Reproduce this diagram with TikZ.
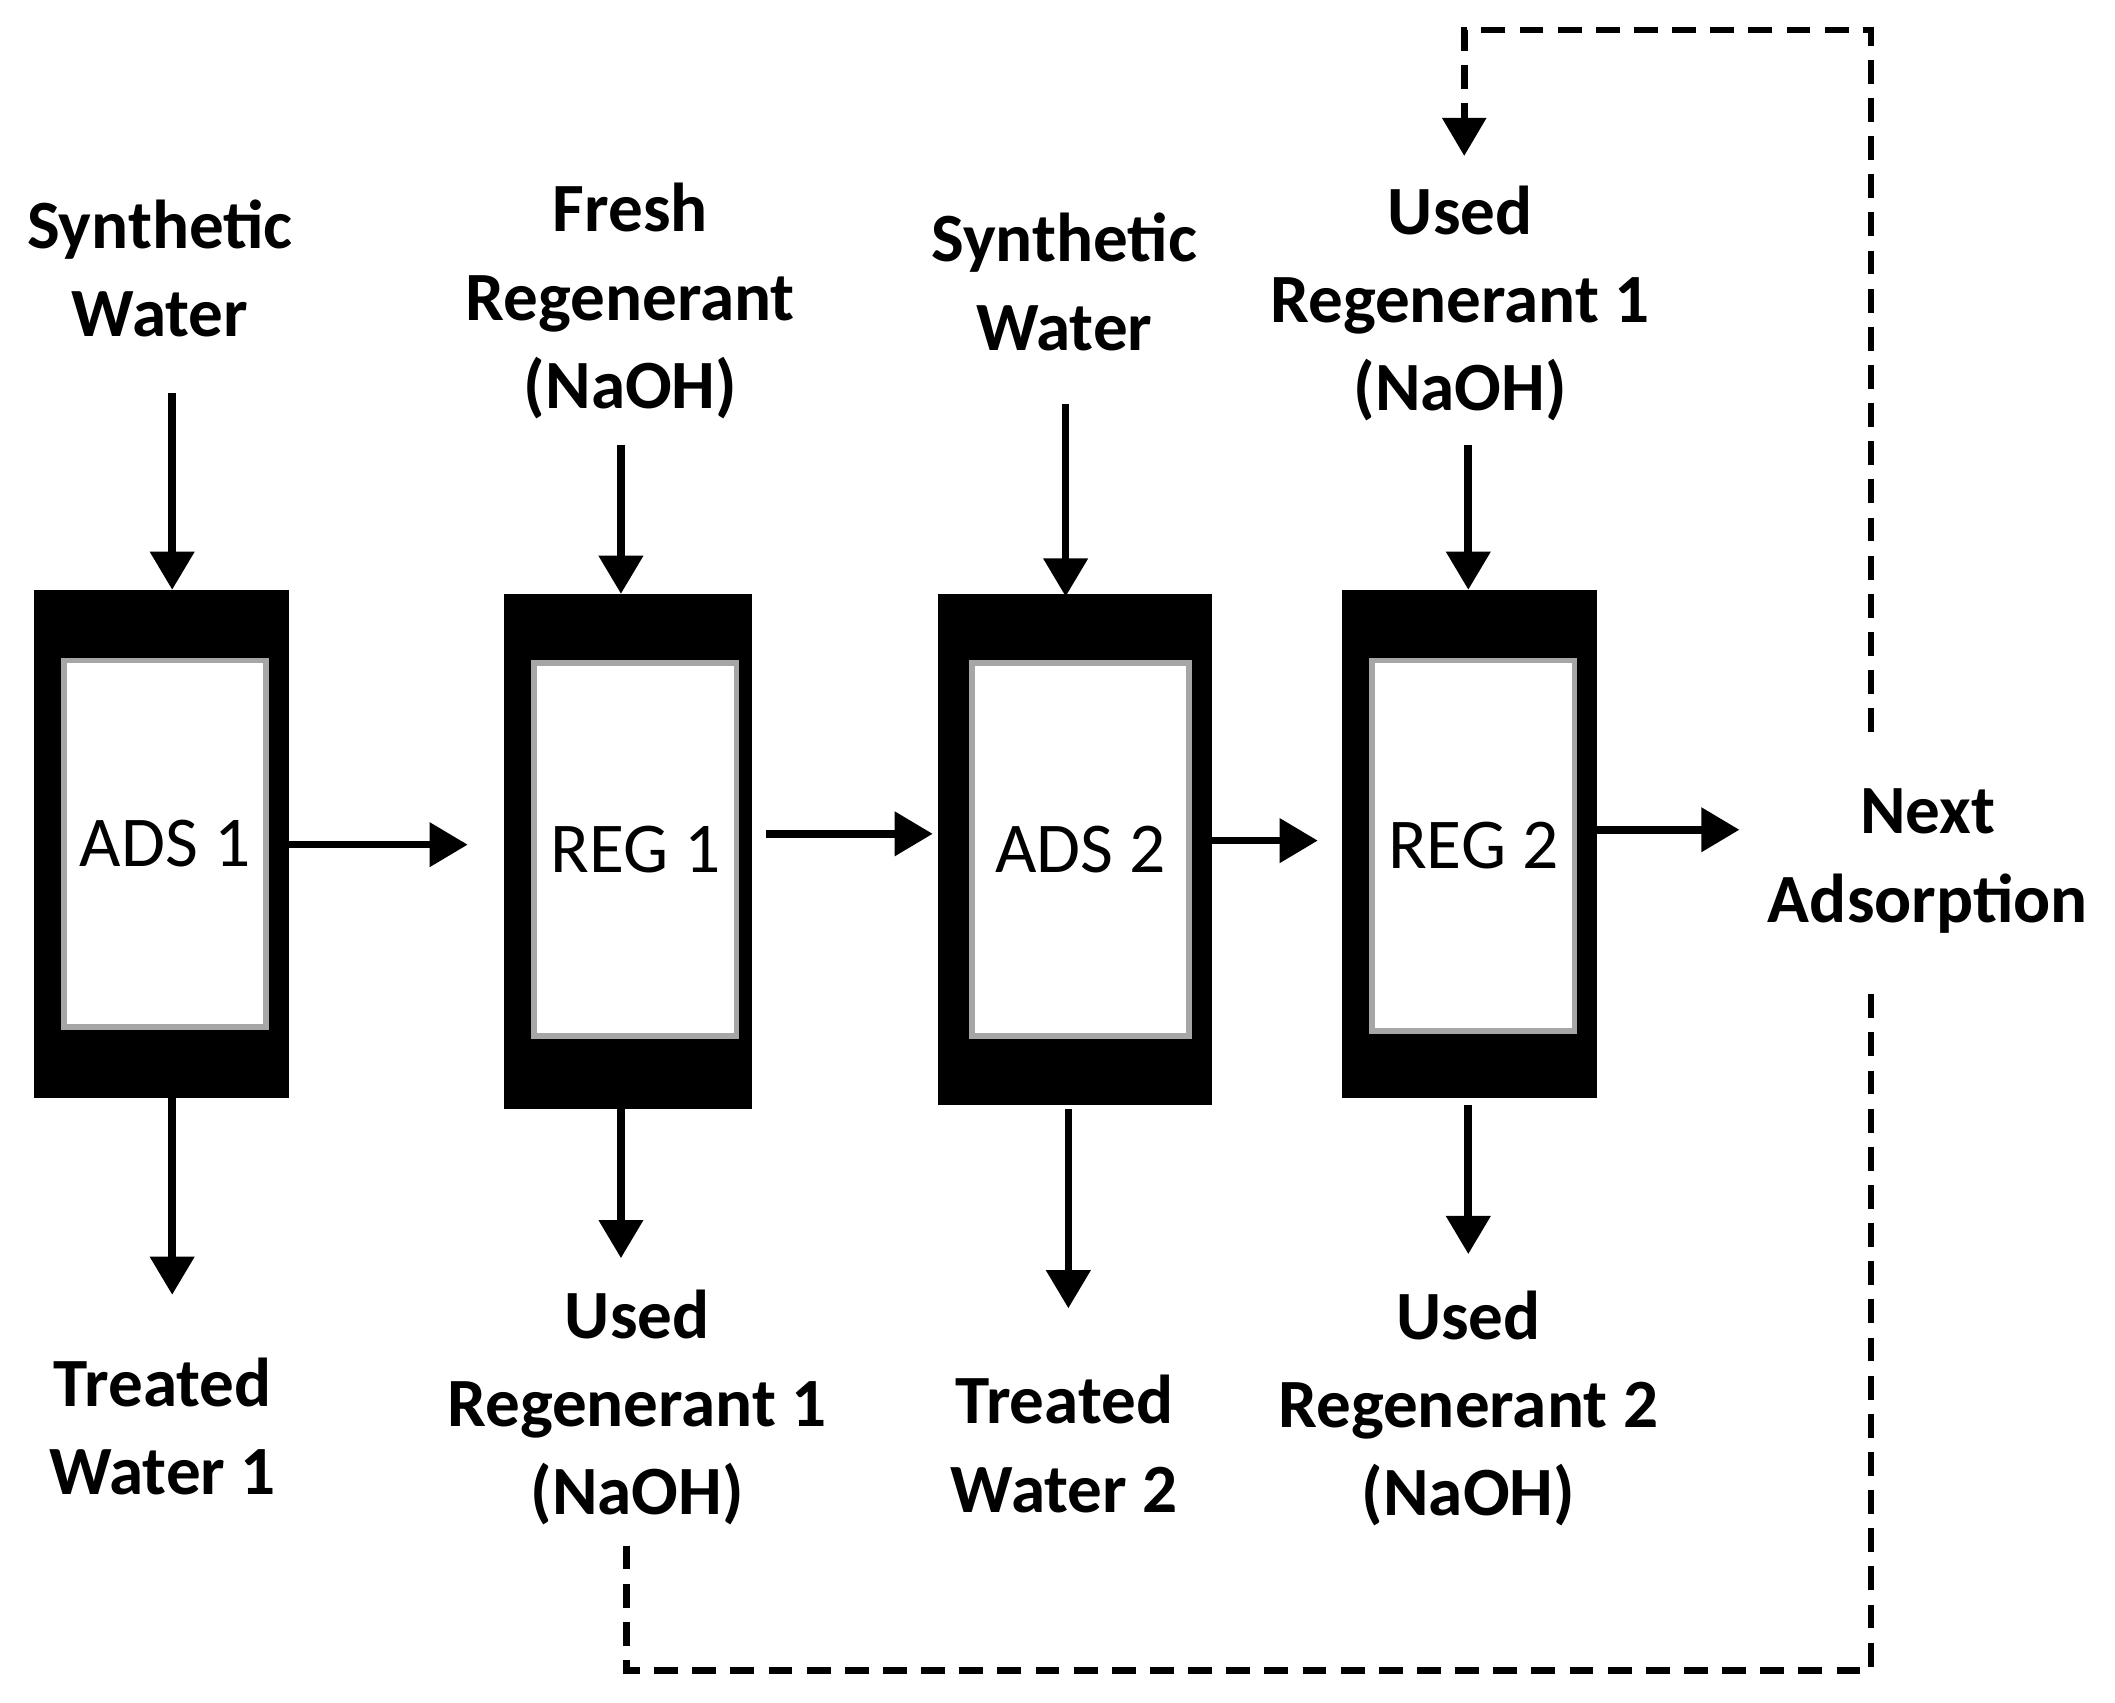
\documentclass[tikz,border=0pt]{standalone}
\usepackage{fontspec}
\setmainfont{Carlito}
\usetikzlibrary{arrows.meta}
\begin{document}
\begin{tikzpicture}[x=0.01cm,y=-0.01cm,
 lbl/.style={font=\fontsize{14.5pt}{18.5pt}\selectfont\bfseries,align=center,inner sep=0},
 inner/.style={fill=white,draw=gray!70,line width=1.2pt,font=\fontsize{15pt}{18pt}\selectfont},
 arr/.style={line width=1.6pt,-{Triangle[width=9pt,length=8pt]}},
 dashln/.style={line width=1.4pt,dash pattern=on 5pt off 3pt}]
\useasboundingbox (0,0) rectangle (1560,1256);
% boxes
\fill[black] (25,435) rectangle (213,810);
\node[inner,anchor=north west,minimum width=1.48cm,minimum height=2.7cm] (a1) at (45,485) {ADS 1};
\fill[black] (372,438) rectangle (555,818);
\node[inner,anchor=north west,minimum width=1.48cm,minimum height=2.75cm] (r1) at (392,487) {REG 1};
\fill[black] (692,438) rectangle (894,815);
\node[inner,anchor=north west,minimum width=1.6cm,minimum height=2.75cm] (a2) at (715,487) {ADS 2};
\fill[black] (990,435) rectangle (1178,810);
\node[inner,anchor=north west,minimum width=1.48cm,minimum height=2.73cm] (r2) at (1010,485) {REG 2};
% labels
\node[lbl] (sw1) at (118,198) {Synthetic\\Water};
\node[lbl] (tw1) at (120,1052) {Treated\\Water 1};
\node[lbl] (fr) at (465,222) {Fresh\\Regenerant\\(NaOH)};
\node[lbl] (ur1b) at (470,1038) {Used\\Regenerant 1\\(NaOH)};
\node[lbl] (sw2) at (785,208) {Synthetic\\Water};
\node[lbl] (tw2) at (785,1065) {Treated\\Water 2};
\node[lbl] (ur1t) at (1077,224) {Used\\Regenerant 1\\(NaOH)};
\node[lbl] (ur2) at (1083,1039) {Used\\Regenerant 2\\(NaOH)};
\node[lbl] (nx) at (1422,635) {Next\\Adsorption};
% coordinates
\coordinate (p1) at (127,290); \coordinate (p2) at (127,435);
\coordinate (p3) at (127,810); \coordinate (p4) at (127,955);
\coordinate (p5) at (458,328); \coordinate (p6) at (458,438);
\coordinate (p7) at (458,818); \coordinate (p8) at (458,928);
\coordinate (p9) at (786,298); \coordinate (p10) at (786,440);
\coordinate (p11) at (788,818); \coordinate (p12) at (788,965);
\coordinate (p13) at (1083,328); \coordinate (p14) at (1083,435);
\coordinate (p15) at (1083,815); \coordinate (p16) at (1083,925);
\draw[arr] (p1)--(p2); \draw[arr] (p3)--(p4);
\draw[arr] (p5)--(p6); \draw[arr] (p7)--(p8);
\draw[arr] (p9)--(p10); \draw[arr] (p11)--(p12);
\draw[arr] (p13)--(p14); \draw[arr] (p15)--(p16);
\coordinate (h1) at (213,623); \coordinate (h2) at (345,623);
\coordinate (h3) at (565,615); \coordinate (h4) at (688,615);
\coordinate (h5) at (894,620); \coordinate (h6) at (972,620);
\coordinate (h7) at (1178,612); \coordinate (h8) at (1283,612);
\draw[arr] (h1)--(h2); \draw[arr] (h3)--(h4);
\draw[arr] (h5)--(h6); \draw[arr] (h7)--(h8);
% dashed loops
\coordinate (d1) at (462,1140); \coordinate (d2) at (1380,725);
\draw[dashln] (d1)--(462,1232)--(1380,1232)--(d2);
\coordinate (d3) at (1380,540); \coordinate (d4) at (1080,115);
\draw[dashln,-{Triangle[width=9pt,length=8pt]}] (d3)--(1380,22)--(1080,22)--(d4);
\end{tikzpicture}
\end{document}
